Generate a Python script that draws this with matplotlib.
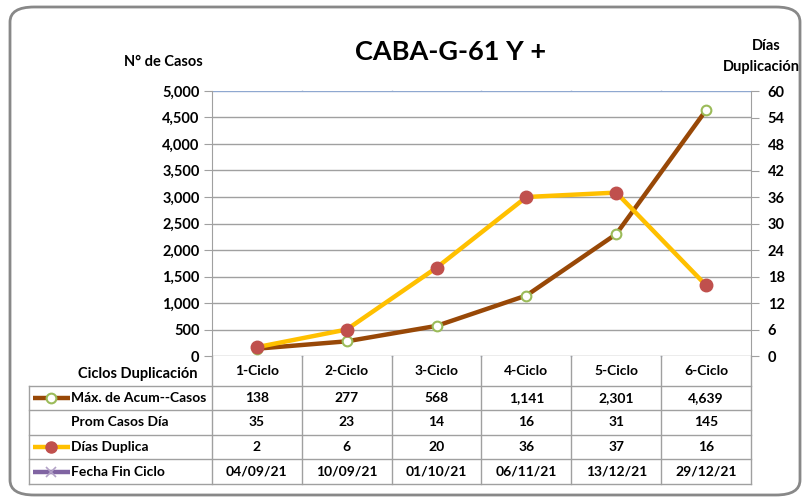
import matplotlib
matplotlib.use('Agg')
import matplotlib.pyplot as plt
from matplotlib.lines import Line2D
from matplotlib.patches import FancyBboxPatch
import numpy as np

# data
ciclos = ['1-Ciclo', '2-Ciclo', '3-Ciclo', '4-Ciclo', '5-Ciclo', '6-Ciclo']
max_acum = [138, 277, 568, 1141, 2301, 4639]
prom_casos = [35, 23, 14, 16, 31, 145]
dias_duplica = [2, 6, 20, 36, 37, 16]
fecha_fin = ['04/09/21', '10/09/21', '01/10/21', '06/11/21', '13/12/21', '29/12/21']

plt.rcParams['font.family'] = ['Lato', 'DejaVu Sans']
plt.rcParams['font.weight'] = 'bold'

W, H = 804, 499
fig = plt.figure(figsize=(W / 100, H / 100), dpi=100)

def fx(x):
    return x / W

def fy(y):
    return 1 - y / H

# plot area in pixels
L, R, T, B = 212, 751, 91, 356
ax = fig.add_axes([fx(L), fy(B), fx(R) - fx(L), fy(T) - fy(B)])
ax2 = ax.twinx()

n = len(ciclos)
x = np.arange(n)
ax.set_xlim(-0.5, n - 0.5)
ax.set_ylim(0, 5000)
ax2.set_ylim(0, 60)
ax.set_yticks(np.arange(0, 5001, 500))
ax.set_yticklabels([f'{v:,}' for v in range(0, 5001, 500)])
ax2.set_yticks(np.arange(0, 61, 6))
ax.set_xticks([])

grid_gray = '#A0A0A0'
blue = '#4F6F9F'
for v in np.arange(500, 5000, 500):
    ax.axhline(v, color=grid_gray, lw=1.0, zorder=0)
ax.axhline(5000, color='#8FA8D0', lw=1.0, zorder=0)
for s in ['top', 'bottom']:
    ax.spines[s].set_visible(False)
    ax2.spines[s].set_visible(False)
ax.spines['right'].set_visible(False)
ax2.spines['left'].set_visible(False)
ax.spines['left'].set_color(grid_gray)
ax2.spines['right'].set_color(grid_gray)
ax.axhline(0, color=grid_gray, lw=1.0, zorder=0)
ax.tick_params(axis='y', length=6, color=grid_gray, labelsize=10.5, pad=3)
ax2.tick_params(axis='y', length=6, color=grid_gray, labelsize=10.5, pad=6)

ax.plot(x, max_acum, color='#984807', lw=3.2, marker='o', ms=7,
        mfc='white', mec='#9BBB59', mew=1.5, zorder=3)
ax2.plot(x, dias_duplica, color='#FFC000', lw=3.2, marker='o', ms=9,
         mfc='#C0504D', mec='#C0504D', zorder=3)

# table geometry (pixels)
col_edges = [L + (R - L) * i / n for i in range(n + 1)]
tab_left = 29
row_edges = [386, 410, 435, 459, 484]
hdr_y = 371

line_kw = dict(color=grid_gray, lw=1.0, transform=fig.transFigure)
# vertical category lines in plot area and through table
for cx in col_edges[1:-1]:
    fig.add_artist(Line2D([fx(cx)] * 2, [fy(T), fy(B)], color=blue, lw=1.0,
                          transform=fig.transFigure, zorder=0))
for cx in col_edges:
    fig.add_artist(Line2D([fx(cx)] * 2, [fy(B), fy(row_edges[-1])], **line_kw))
fig.add_artist(Line2D([fx(tab_left)] * 2, [fy(row_edges[0]), fy(row_edges[-1])], **line_kw))
for ry in row_edges:
    fig.add_artist(Line2D([fx(tab_left), fx(R)], [fy(ry)] * 2, **line_kw))

fs = 10
fig.text(fx(L - 14), fy(hdr_y + 3), 'Ciclos Duplicación', ha='right', va='center', fontsize=10.5)
for i, c in enumerate(ciclos):
    cx = (col_edges[i] + col_edges[i + 1]) / 2
    fig.text(fx(cx), fy(hdr_y), c, ha='center', va='center', fontsize=fs)

rows = [
    ('Máx. de Acum--Casos', [f'{v:,}' for v in max_acum],
     dict(color='#984807', marker='o', mfc='white', mec='#9BBB59', ms=7, mew=1.5)),
    ('Prom Casos Día', [str(v) for v in prom_casos], None),
    ('Días Duplica', [str(v) for v in dias_duplica],
     dict(color='#FFC000', marker='o', mfc='#C0504D', mec='#C0504D', ms=8)),
    ('Fecha Fin Ciclo', fecha_fin,
     dict(color='#8064A2', marker='x', mec='#B3A2C7', ms=7, mew=1.2)),
]
for r, (label, vals, key) in enumerate(rows):
    cy = (row_edges[r] + row_edges[r + 1]) / 2
    if key is not None:
        fig.add_artist(Line2D([fx(33), fx(70)], [fy(cy)] * 2, lw=3.2, color=key['color'],
                              transform=fig.transFigure, solid_capstyle='butt'))
        mk = {k: v for k, v in key.items() if k != 'color'}
        fig.add_artist(Line2D([fx(51.5)], [fy(cy)], lw=0, transform=fig.transFigure, **mk))
    fig.text(fx(71), fy(cy), label, ha='left', va='center', fontsize=fs)
    for i, v in enumerate(vals):
        cx = (col_edges[i] + col_edges[i + 1]) / 2
        fig.text(fx(cx), fy(cy), v, ha='center', va='center', fontsize=fs)

fig.text(fx(451), fy(52), 'CABA-G-61 Y +', ha='center', va='center', fontsize=19.5)
fig.text(fx(163), fy(62), 'N° de Casos', ha='center', va='center', fontsize=10.5)
fig.text(fx(766), fy(46), 'Días', ha='center', va='center', fontsize=10.5)
fig.text(fx(800), fy(67), 'Duplicación', ha='right', va='center', fontsize=10.5)

border = FancyBboxPatch((fx(10), fy(495)), fx(790), 1 - fy(488),
                        boxstyle='round,pad=0,rounding_size=0.03',
                        transform=fig.transFigure, fill=False,
                        edgecolor='#888888', lw=2)
fig.add_artist(border)

fig.savefig('out.png', dpi=100)
